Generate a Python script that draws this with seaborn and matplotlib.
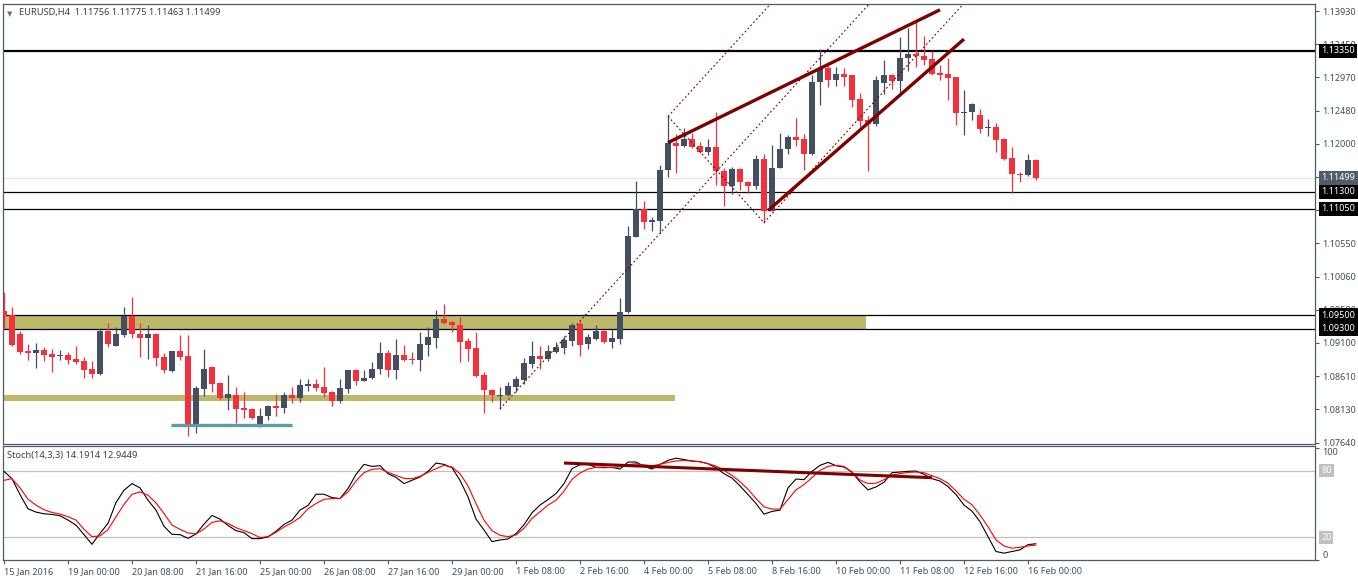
import numpy as np
import pandas as pd
import seaborn as sns
import matplotlib
matplotlib.use("Agg")
import matplotlib.pyplot as plt
from matplotlib.patches import Rectangle
import matplotlib.transforms as mtrans

# ---------------- data ----------------
opens = [1.09564, 1.09505, 1.09231, 1.08976, 1.08952, 1.08991, 1.08932, 1.08907, 1.08917, 1.08859,
         1.08829, 1.08711, 1.08643, 1.09270, 1.09054, 1.09211, 1.09490, 1.09231, 1.09172, 1.09231,
         1.08888, 1.08682, 1.08976, 1.08903, 1.07898, 1.08422, 1.08741, 1.08510, 1.08290, 1.08339,
         1.08143, 1.08128, 1.07888, 1.08025, 1.08168, 1.08143, 1.08329, 1.08290, 1.08466, 1.08491,
         1.08447, 1.08373, 1.08241, 1.08422, 1.08697, 1.08535, 1.08584, 1.08711, 1.08947, 1.08702,
         1.08917, 1.08859, 1.08839, 1.09069, 1.09172, 1.09446, 1.09397, 1.09358, 1.09123, 1.09020,
         1.08623, 1.08412, 1.08319, 1.08329, 1.08452, 1.08555, 1.08790, 1.08898, 1.08863, 1.08966,
         1.09025, 1.09123, 1.09363, 1.09084, 1.09157, 1.09270, 1.09113, 1.09157, 1.09540, 1.10642,
         1.11044, 1.10862, 1.10877, 1.11622, 1.12014, 1.11965, 1.12073, 1.11965, 1.11877, 1.11945,
         1.11598, 1.11377, 1.11632, 1.11446, 1.11377, 1.11779, 1.11024, 1.11646, 1.11926, 1.12092,
         1.12063, 1.11842, 1.12896, 1.13107, 1.12921, 1.13019, 1.12994, 1.12651, 1.12347, 1.12284,
         1.12886, 1.13004, 1.12906, 1.13249, 1.13313, 1.13283, 1.13239, 1.13033, 1.13019, 1.12974,
         1.12450, 1.12455, 1.12416, 1.12220, 1.12244, 1.12063, 1.11784, 1.11563, 1.11539, 1.11756]
highs = [1.09834, 1.09613, 1.09270, 1.09084, 1.09094, 1.09035, 1.09005, 1.08991, 1.08961, 1.09050,
         1.08888, 1.08829, 1.09309, 1.09388, 1.09329, 1.09613, 1.09760, 1.09378, 1.09358, 1.09241,
         1.08947, 1.08976, 1.09211, 1.09211, 1.08461, 1.09005, 1.08751, 1.08525, 1.08623, 1.08447,
         1.08378, 1.08143, 1.08143, 1.08192, 1.08349, 1.08373, 1.08447, 1.08564, 1.08574, 1.08564,
         1.08741, 1.08398, 1.08564, 1.08697, 1.08711, 1.08702, 1.08814, 1.09103, 1.08986, 1.09152,
         1.09064, 1.08961, 1.09255, 1.09329, 1.09574, 1.09662, 1.09417, 1.09476, 1.09162, 1.09255,
         1.08672, 1.08417, 1.08447, 1.08525, 1.08609, 1.08868, 1.09123, 1.09050, 1.09064, 1.09108,
         1.09197, 1.09378, 1.09407, 1.09221, 1.09358, 1.09280, 1.09290, 1.09755, 1.10799, 1.11460,
         1.11166, 1.10936, 1.11681, 1.12396, 1.12137, 1.12220, 1.12161, 1.12024, 1.12073, 1.12455,
         1.11646, 1.11661, 1.11642, 1.11451, 1.11828, 1.11842, 1.11980, 1.12161, 1.12132, 1.12372,
         1.12137, 1.13004, 1.13386, 1.13141, 1.13117, 1.13102, 1.13004, 1.12739, 1.12406, 1.12984,
         1.13214, 1.13019, 1.13548, 1.13680, 1.13803, 1.13562, 1.13347, 1.13141, 1.13249, 1.12974,
         1.12788, 1.12592, 1.12504, 1.12357, 1.12298, 1.12088, 1.11945, 1.11593, 1.11842, 1.11775]
lows = [1.09295, 1.09050, 1.08927, 1.08849, 1.08731, 1.08829, 1.08672, 1.08849, 1.08790, 1.08780,
        1.08584, 1.08584, 1.08633, 1.09035, 1.09045, 1.09182, 1.09162, 1.08888, 1.08863, 1.08756,
        1.08658, 1.08672, 1.08839, 1.07741, 1.07775, 1.08315, 1.08378, 1.08261, 1.08114, 1.07922,
        1.08006, 1.07986, 1.07864, 1.07967, 1.08035, 1.08070, 1.08217, 1.08231, 1.08398, 1.08388,
        1.08300, 1.08168, 1.08212, 1.08364, 1.08486, 1.08535, 1.08574, 1.08643, 1.08593, 1.08564,
        1.08829, 1.08790, 1.08682, 1.08903, 1.09025, 1.09368, 1.09260, 1.08819, 1.08829, 1.08599,
        1.08070, 1.08231, 1.08133, 1.08324, 1.08378, 1.08496, 1.08731, 1.08721, 1.08829, 1.08947,
        1.08937, 1.09045, 1.08903, 1.09010, 1.09143, 1.09094, 1.09025, 1.09084, 1.09525, 1.10642,
        1.10760, 1.10730, 1.10691, 1.11514, 1.11573, 1.11955, 1.11936, 1.11857, 1.11828, 1.11402,
        1.11083, 1.11269, 1.11328, 1.11279, 1.11338, 1.10848, 1.11024, 1.11646, 1.11842, 1.11965,
        1.11612, 1.11828, 1.12563, 1.12823, 1.12837, 1.12837, 1.12529, 1.12235, 1.11598, 1.12259,
        1.12725, 1.12798, 1.12739, 1.13053, 1.13117, 1.13141, 1.13004, 1.12921, 1.12641, 1.12269,
        1.12122, 1.12347, 1.12151, 1.12112, 1.11877, 1.11759, 1.11279, 1.11436, 1.11534, 1.11463]
closes = [1.09490, 1.09064, 1.08966, 1.08952, 1.08991, 1.08917, 1.08893, 1.08917, 1.08849, 1.08819,
          1.08702, 1.08643, 1.09270, 1.09074, 1.09221, 1.09490, 1.09221, 1.09172, 1.09231, 1.08878,
          1.08692, 1.08976, 1.08893, 1.07898, 1.08437, 1.08721, 1.08496, 1.08290, 1.08349, 1.08128,
          1.08114, 1.07996, 1.08035, 1.08168, 1.08143, 1.08329, 1.08290, 1.08476, 1.08491, 1.08437,
          1.08359, 1.08241, 1.08432, 1.08697, 1.08535, 1.08589, 1.08711, 1.08947, 1.08702, 1.08917,
          1.08839, 1.08839, 1.09079, 1.09182, 1.09446, 1.09388, 1.09348, 1.09113, 1.09010, 1.08609,
          1.08406, 1.08329, 1.08339, 1.08461, 1.08564, 1.08800, 1.08903, 1.08863, 1.08971, 1.09035,
          1.09138, 1.09358, 1.09064, 1.09182, 1.09265, 1.09113, 1.09167, 1.09549, 1.10652, 1.11044,
          1.10862, 1.10887, 1.11622, 1.12014, 1.11965, 1.12073, 1.11955, 1.11877, 1.11945, 1.11598,
          1.11377, 1.11632, 1.11436, 1.11377, 1.11779, 1.11024, 1.11646, 1.11926, 1.12097, 1.12053,
          1.11842, 1.12896, 1.13107, 1.12921, 1.13019, 1.12974, 1.12641, 1.12333, 1.12284, 1.12930,
          1.13004, 1.12906, 1.13249, 1.13313, 1.13273, 1.13224, 1.13019, 1.13004, 1.12960, 1.12445,
          1.12465, 1.12577, 1.12210, 1.12235, 1.12048, 1.11769, 1.11553, 1.11539, 1.11754, 1.11499]

stoch_k = [79.4, 72.8, 58.5, 45.7, 42.7, 41.2, 40.6, 39.4, 35.5, 31.0, 22.4, 13.7, 23.6, 32.5, 51.3,
           62.4, 68.4, 64.5, 53.4, 44.5, 29.9, 22.7, 22.4, 19.1, 23.0, 31.9, 39.7, 36.4, 30.7, 26.0,
           24.2, 18.8, 18.8, 20.3, 25.4, 31.6, 35.5, 44.5, 48.7, 58.8, 58.8, 55.8, 54.9, 63.9, 76.7,
           85.7, 83.9, 84.5, 77.3, 74.0, 68.4, 71.3, 74.3, 79.4, 86.9, 85.7, 82.7, 71.3, 56.4, 36.4,
           26.6, 16.1, 17.6, 18.5, 23.3, 31.3, 42.1, 49.0, 54.0, 59.4, 68.4, 81.8, 85.4, 85.7, 83.0,
           82.7, 83.0, 81.5, 87.8, 87.8, 83.9, 81.5, 85.7, 89.3, 91.3, 90.1, 88.7, 88.1, 86.3, 82.7,
           77.3, 73.4, 66.3, 58.5, 50.4, 40.9, 43.3, 44.5, 64.5, 72.5, 71.9, 79.4, 84.8, 87.5, 84.5,
           83.3, 78.8, 69.9, 62.7, 65.4, 69.6, 78.2, 78.8, 79.4, 79.7, 76.7, 72.8, 70.7, 65.7, 58.5,
           49.0, 43.6, 34.0, 20.6, 7.2, 5.7, 7.2, 8.7, 13.4, 14.19]
stoch_d = [71.3, 72.8, 64.5, 54.3, 49.0, 44.8, 42.4, 40.9, 38.5, 35.5, 27.2, 20.6, 21.2, 26.9, 38.5,
           49.6, 58.8, 60.9, 57.9, 51.0, 41.5, 31.0, 27.2, 23.9, 23.0, 27.5, 33.4, 34.9, 32.5, 28.7,
           26.0, 23.3, 19.7, 20.6, 24.5, 29.3, 33.1, 37.9, 45.7, 50.4, 54.3, 54.9, 54.9, 60.9, 70.7,
           78.2, 81.2, 81.8, 78.5, 75.8, 73.1, 72.8, 74.9, 78.5, 81.8, 84.8, 83.3, 77.3, 66.3, 50.4,
           35.5, 26.0, 21.8, 20.6, 22.1, 28.1, 37.0, 43.0, 49.0, 53.4, 61.5, 72.2, 77.9, 81.5, 83.0,
           83.3, 82.7, 83.6, 85.4, 86.3, 85.1, 84.5, 85.7, 87.5, 88.7, 89.3, 88.7, 88.1, 86.3, 84.2,
           80.3, 75.8, 70.1, 63.3, 54.9, 47.5, 45.4, 45.4, 54.0, 62.7, 67.5, 73.7, 80.3, 83.9, 84.8,
           83.9, 78.5, 71.6, 68.4, 68.7, 71.9, 76.1, 77.3, 78.5, 78.8, 78.2, 75.5, 72.8, 68.7, 61.8,
           54.3, 49.3, 40.0, 29.6, 17.6, 12.2, 10.2, 11.0, 12.2, 12.94]

tick_bars = [0, 8, 16, 24, 32, 40, 48, 56, 64, 72, 80, 88, 96, 104, 112, 120, 128]
tick_labels = ["15 Jan 2016", "19 Jan 00:00", "20 Jan 08:00", "21 Jan 16:00", "25 Jan 00:00",
               "26 Jan 08:00", "27 Jan 16:00", "29 Jan 00:00", "1 Feb 08:00", "2 Feb 16:00",
               "4 Feb 00:00", "5 Feb 08:00", "8 Feb 16:00", "10 Feb 00:00", "11 Feb 08:00",
               "12 Feb 16:00", "16 Feb 00:00"]
price_ticks = [1.07640, 1.08130, 1.08610, 1.09100, 1.09580, 1.10060, 1.10550, 1.11030,
               1.11520, 1.12000, 1.12480, 1.12970, 1.13450, 1.13930]
hlines = [1.13350, 1.11300, 1.11050, 1.09500, 1.09300]
bid_price = 1.11499
zone_upper = (1.09300, 1.09500, 107.75)   # bottom, top, end bar
zone_lower = (1.08241, 1.08339, 83.9)
support_line = (20.9, 36.0, 1.07898)      # start bar, end bar, price
wedge_upper = [(83.0, 1.12014), (117.0, 1.13950)]
wedge_lower = [(95.5, 1.11024), (120.0, 1.13523)]
channel_base = [(62.0, 1.08133), (82.0, 1.10691)]
channel_parallel_anchors = [(83.0, 1.12396), (95.0, 1.10848)]
zigzag = [(83.0, 1.12396), (95.0, 1.10848)]
stoch_trend = [(70.0, 86.9), (116.0, 73.7)]
title_text = "EURUSD,H4  1.11756 1.11775 1.11463 1.11499"
stoch_title = "Stoch(14,3,3) 14.1914 12.9449"

# ---------------- style ----------------
sns.set_theme(style="white")
plt.rcParams["font.family"] = ["Noto Sans", "DejaVu Sans"]
FS = 6.5
FRAME = "#4f5b6b"
TXT = "#3f4d63"
BULL = "#434f60"
BEAR = "#f5303d"
MAROON = "#800000"
KHAKI = "#bdb96b"

W, H = 1358, 581
fig = plt.figure(figsize=(W / 100, H / 100), dpi=100)
fig.patch.set_facecolor("white")

def frac(x0, y0, x1, y1):
    return [x0 / W, 1 - y1 / H, (x1 - x0) / W, (y1 - y0) / H]

ax = fig.add_axes(frac(3, 4, 1315, 444.3))
ax2 = fig.add_axes(frac(3, 446, 1315, 560))

PX = 8.0
xmin = -0.125
xmax = xmin + 1312 / PX
for a in (ax, ax2):
    a.set_xlim(xmin, xmax)
    a.set_facecolor("white")
    for s in a.spines.values():
        s.set_color(FRAME)
        s.set_linewidth(0.9)
    a.grid(False)

ax.set_ylim(1.07616, 1.14035)
ax2.set_ylim(-0.45, 102.25)

df = pd.DataFrame({"bar": np.arange(len(opens)), "open": opens, "high": highs,
                   "low": lows, "close": closes})

# zones
for bot, top, end in (zone_upper, zone_lower):
    ax.add_patch(Rectangle((xmin - 1, bot), end - xmin + 1, top - bot,
                           facecolor=KHAKI, edgecolor="none", zorder=1))

# bid line
ax.axhline(bid_price, color="#e6e6e6", lw=0.9, zorder=1.2)
# horizontal levels
for i, p in enumerate(hlines):
    ax.axhline(p, color="black", lw=1.6 if i == 0 else 0.9, zorder=1.5)

# candles
up = df["close"] >= df["open"]
colors = np.where(up, BULL, BEAR)
ax.vlines(df["bar"], df["low"], df["high"], colors=colors, lw=0.9, zorder=3)
body_bot = np.minimum(df["open"], df["close"])
body_h = np.maximum(np.abs(df["close"] - df["open"]), 0.00013)
ax.bar(df["bar"], body_h, bottom=body_bot, width=0.64, color=colors, edgecolor="none", zorder=3.1)

# support line
ax.plot([support_line[0], support_line[1]], [support_line[2]] * 2, color="#5f9ea0",
        lw=2.4, solid_capstyle="butt", zorder=4)

# channel dashed lines
(bx0, by0), (bx1, by1) = channel_base
slope = (by1 - by0) / (bx1 - bx0)
dash = dict(color=MAROON, lw=0.8, dashes=(1.6, 2.2), zorder=4)
ext = 60
ax.plot([bx0, bx0 + ext], [by0, by0 + slope * ext], **dash)
for (px, py) in channel_parallel_anchors:
    ax.plot([px, px + ext], [py, py + slope * ext], **dash)
ax.plot([zigzag[0][0], zigzag[1][0]], [zigzag[0][1], zigzag[1][1]], **dash)

# wedge
for seg in (wedge_upper, wedge_lower):
    ax.plot([seg[0][0], seg[1][0]], [seg[0][1], seg[1][1]], color=MAROON, lw=2.4,
            solid_capstyle="butt", zorder=5)

# price axis
ax.yaxis.tick_right()
ax.set_yticks(price_ticks)
ax.set_yticklabels([f"{p:.5f}" for p in price_ticks])
ax.tick_params(axis="y", right=True, left=False, length=3, width=0.8, color=FRAME,
               labelsize=FS, labelcolor=TXT, pad=2.5)
ax.set_xticks([])

btrans = mtrans.blended_transform_factory(ax.transAxes, ax.transData)
def price_box(axis, trans, y, text, fc, tc="white"):
    axis.text(1.0048, y, text, transform=trans, fontsize=FS, color=tc, va="center", ha="left",
              bbox=dict(boxstyle="square,pad=0.28", fc=fc, ec="none"), clip_on=False, zorder=10)

price_box(ax, btrans, bid_price, f"{bid_price:.5f}", "#525d6b")
for p in hlines:
    price_box(ax, btrans, p, f"{p:.5f}", "black")

# titles
ax.text(0.003, 0.984, "\u25bc", transform=ax.transAxes, fontsize=5, color="#707070",
        va="top", ha="left", family="DejaVu Sans")
ax.text(0.0125, 0.99, title_text, transform=ax.transAxes, fontsize=FS + 0.2, color="#404040",
        va="top", ha="left")

# stochastic
sdf = pd.DataFrame({"bar": np.arange(len(stoch_k)), "K": stoch_k, "D": stoch_d})
for lvl in (80, 20):
    ax2.axhline(lvl, color="#c0c0c0", lw=0.9, zorder=1)
sns.lineplot(data=sdf, x="bar", y="K", ax=ax2, color="black", lw=0.8, zorder=3)
sns.lineplot(data=sdf, x="bar", y="D", ax=ax2, color="#ff0000", lw=0.8, zorder=3)
ax2.plot([stoch_trend[0][0], stoch_trend[1][0]], [stoch_trend[0][1], stoch_trend[1][1]],
         color=MAROON, lw=2.2, solid_capstyle="butt", zorder=4)
ax2.set_xlabel("")
ax2.set_ylabel("")
ax2.set_xlim(xmin, xmax)
ax2.yaxis.tick_right()
ax2.set_yticks([0, 100])
ylabs = ax2.set_yticklabels(["0", "100"])
ylabs[0].set_va("bottom")
ylabs[1].set_va("top")
ax2.tick_params(axis="y", right=True, left=False, length=3, width=0.8, color=FRAME,
                labelsize=FS, labelcolor=TXT, pad=2.5)
ax2.set_xticks(tick_bars)
ax2.set_xticklabels(tick_labels, ha="left")
ax2.tick_params(axis="x", bottom=True, length=3, width=0.8, color=FRAME,
                labelsize=FS, labelcolor=TXT, pad=2)
strans = mtrans.blended_transform_factory(ax2.transAxes, ax2.transData)
for lvl in (80, 20):
    ax2.text(1.0048, lvl, str(lvl), transform=strans, fontsize=FS, color="white",
             va="center", ha="left", bbox=dict(boxstyle="square,pad=0.2", fc="#c0c0c0", ec="none"),
             clip_on=False, zorder=10)
ax2.text(0.003, 0.955, stoch_title, transform=ax2.transAxes, fontsize=FS + 0.2, color="#404040",
         va="top", ha="left")

fig.savefig("out.png", dpi=100, facecolor="white")
